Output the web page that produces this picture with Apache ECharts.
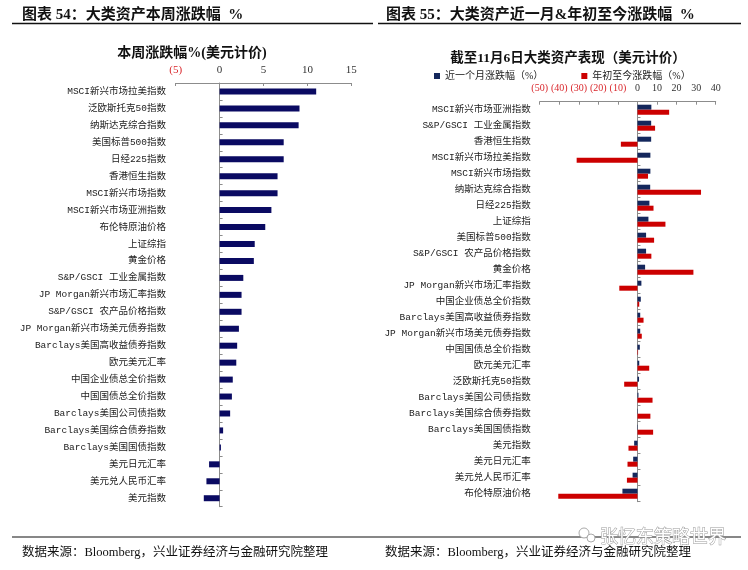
<!DOCTYPE html>
<html><head><meta charset="utf-8">
<script src="https://cdn.jsdelivr.net/npm/echarts@6/dist/echarts.min.js"></script>
<style>html,body{margin:0;padding:0;background:#fff}#c{width:748px;height:570px}</style>
</head><body><div id="c"></div><script>
// ---- Chart 54: weekly change (%) ----
const weekCategories = ['MSCI新兴市场拉美指数','泛欧斯托克50指数','纳斯达克综合指数','美国标普500指数','日经225指数','香港恒生指数','MSCI新兴市场指数','MSCI新兴市场亚洲指数','布伦特原油价格','上证综指','黄金价格','S&P/GSCI 工业金属指数','JP Morgan新兴市场汇率指数','S&P/GSCI 农产品价格指数','JP Morgan新兴市场美元债券指数','Barclays美国高收益债券指数','欧元美元汇率','中国企业债总全价指数','中国国债总全价指数','Barclays美国公司债指数','Barclays美国综合债券指数','Barclays美国国债指数','美元日元汇率','美元兑人民币汇率','美元指数'];
const weekValues = [11.0, 9.1, 9.0, 7.3, 7.3, 6.6, 6.6, 5.9, 5.2, 4.0, 3.9, 2.7, 2.5, 2.5, 2.2, 2.0, 1.9, 1.5, 1.4, 1.2, 0.4, 0.15, -1.2, -1.5, -1.8];
const weekTicks = { min: -5, max: 15, step: 5 };

// ---- Chart 55: 1-month and YTD change (%) ----
const perfCategories = ['MSCI新兴市场亚洲指数','S&P/GSCI 工业金属指数','香港恒生指数','MSCI新兴市场拉美指数','MSCI新兴市场指数','纳斯达克综合指数','日经225指数','上证综指','美国标普500指数','S&P/GSCI 农产品价格指数','黄金价格','JP Morgan新兴市场汇率指数','中国企业债总全价指数','Barclays美国高收益债券指数','JP Morgan新兴市场美元债券指数','中国国债总全价指数','欧元美元汇率','泛欧斯托克50指数','Barclays美国公司债指数','Barclays美国综合债券指数','Barclays美国国债指数','美元指数','美元日元汇率','美元兑人民币汇率','布伦特原油价格'];
const monthValues = [7.1, 7.0, 7.0, 6.6, 6.6, 6.5, 6.1, 5.6, 4.4, 4.4, 3.9, 2.0, 1.7, 1.4, 1.4, 1.2, 0.9, 0.8, 0.5, 0.2, -0.2, -1.7, -2.2, -2.5, -7.7];
const ytdValues = [16.2, 9.0, -8.5, -31.1, 5.4, 32.5, 8.2, 14.3, 8.5, 7.1, 28.6, -9.3, 0.9, 3.1, 2.2, 0.3, 6.0, -6.8, 7.7, 6.6, 8.0, -4.6, -5.1, -5.4, -40.5];
const perfTicks = { min: -50, max: 40, step: 10 };
const seriesNames = ['近一个月涨跌幅（%）', '年初至今涨跌幅（%）'];

const serifCJK = "'Liberation Serif','Noto Sans CJK SC'";
const monoCJK = "'Liberation Mono','Noto Sans CJK SC'";
const axisGray = '#8c8c8c';
const negColor = '#d9262b';
const fmt = v => v < 0 ? '(' + (-v) + ')' : String(v);
const col = v => v < 0 ? negColor : '#333';

function valueAxis(grid, t, fs, margin) {
  return {
    gridIndex: grid, type: 'value', position: 'top', min: t.min, max: t.max, interval: t.step,
    axisLine: { show: true, onZero: false, lineStyle: { color: axisGray } },
    axisTick: { show: true, inside: true, length: 3, lineStyle: { color: axisGray } },
    splitLine: { show: false },
    axisLabel: { margin: margin, fontSize: fs, fontFamily: "'Liberation Serif'", color: col, formatter: fmt }
  };
}
function catAxis(grid, data, margin) {
  return {
    gridIndex: grid, type: 'category', inverse: true, data: data,
    axisLine: { show: true, onZero: true, lineStyle: { color: axisGray } },
    axisTick: { show: true, inside: true, length: 3, lineStyle: { color: axisGray } },
    axisLabel: { margin: margin, fontSize: 9.5, fontFamily: monoCJK, color: '#222' }
  };
}

const chart = echarts.init(document.getElementById('c'));
chart.setOption({
  animation: false,
  backgroundColor: '#fff',
  grid: [
    { left: 175.7, top: 83, width: 175.6, height: 423.7, containLabel: false, outerBoundsMode: 'none' },
    { left: 539.7, top: 101.7, width: 176, height: 400, containLabel: false, outerBoundsMode: 'none' }
  ],
  xAxis: [valueAxis(0, weekTicks, 11, 7), valueAxis(1, perfTicks, 10, 8)],
  yAxis: [catAxis(0, weekCategories, 9.7), catAxis(1, perfCategories, 9)],
  legend: {
    data: seriesNames, left: 429, top: 66, itemWidth: 6, itemHeight: 6, itemGap: 38,
    icon: 'rect',
    textStyle: { fontSize: 10, fontFamily: serifCJK, color: '#222' }
  },
  series: [
    { type: 'bar', name: '本周涨跌幅', xAxisIndex: 0, yAxisIndex: 0, data: weekValues, barWidth: 6, itemStyle: { color: '#0a0a62' } },
    { type: 'bar', name: seriesNames[0], xAxisIndex: 1, yAxisIndex: 1, data: monthValues, barWidth: 5, barGap: '0%', itemStyle: { color: '#14275c' } },
    { type: 'bar', name: seriesNames[1], xAxisIndex: 1, yAxisIndex: 1, data: ytdValues, barWidth: 5, barGap: '0%', itemStyle: { color: '#cc0000' } }
  ],
  graphic: [
    { type: 'text', left: 22, top: 8, style: { text: '图表 54：大类资产本周涨跌幅  %', font: "bold 15px 'Liberation Serif','Noto Sans CJK SC'", fill: '#111' } },
    { type: 'text', left: 386, top: 8, style: { text: '图表 55：大类资产近一月&年初至今涨跌幅  %', font: "bold 15px 'Liberation Serif','Noto Sans CJK SC'", fill: '#111' } },
    { type: 'line', shape: { x1: 12, y1: 23.5, x2: 373, y2: 23.5 }, style: { stroke: '#111', lineWidth: 1.5 } },
    { type: 'line', shape: { x1: 378, y1: 23.5, x2: 741, y2: 23.5 }, style: { stroke: '#111', lineWidth: 1.5 } },
    { type: 'text', x: 192, y: 53, style: { text: '本周涨跌幅%(美元计价)', font: "bold 14px 'Liberation Serif','Noto Sans CJK SC'", fill: '#111', textAlign: 'center', textVerticalAlign: 'middle' } },
    { type: 'text', x: 568, y: 59, style: { text: '截至11月6日大类资产表现（美元计价）', font: "bold 13.5px 'Liberation Serif','Noto Sans CJK SC'", fill: '#111', textAlign: 'center', textVerticalAlign: 'middle' } },
    { type: 'line', shape: { x1: 12, y1: 537, x2: 741, y2: 537 }, style: { stroke: '#111', lineWidth: 1.2 } },
    { type: 'text', x: 22, y: 553, style: { text: '数据来源：Bloomberg，兴业证券经济与金融研究院整理', font: "12.5px 'Liberation Serif','Noto Sans CJK SC'", fill: '#111', textVerticalAlign: 'middle' } },
    { type: 'text', x: 385, y: 553, style: { text: '数据来源：Bloomberg，兴业证券经济与金融研究院整理', font: "12.5px 'Liberation Serif','Noto Sans CJK SC'", fill: '#111', textVerticalAlign: 'middle' } },
    { type: 'circle', shape: { cx: 584, cy: 533, r: 5 }, style: { fill: '#fff', stroke: '#aaa', lineWidth: 1 } },
    { type: 'circle', shape: { cx: 591, cy: 538, r: 4 }, style: { fill: '#fff', stroke: '#aaa', lineWidth: 1 } },
    { type: 'text', x: 600, y: 536, style: { text: '张忆东策略世界', font: "18px 'Noto Sans CJK SC'", fill: '#fff', stroke: '#9a9a9a', lineWidth: 1, textVerticalAlign: 'middle' } }
  ]
});
</script></body></html>
